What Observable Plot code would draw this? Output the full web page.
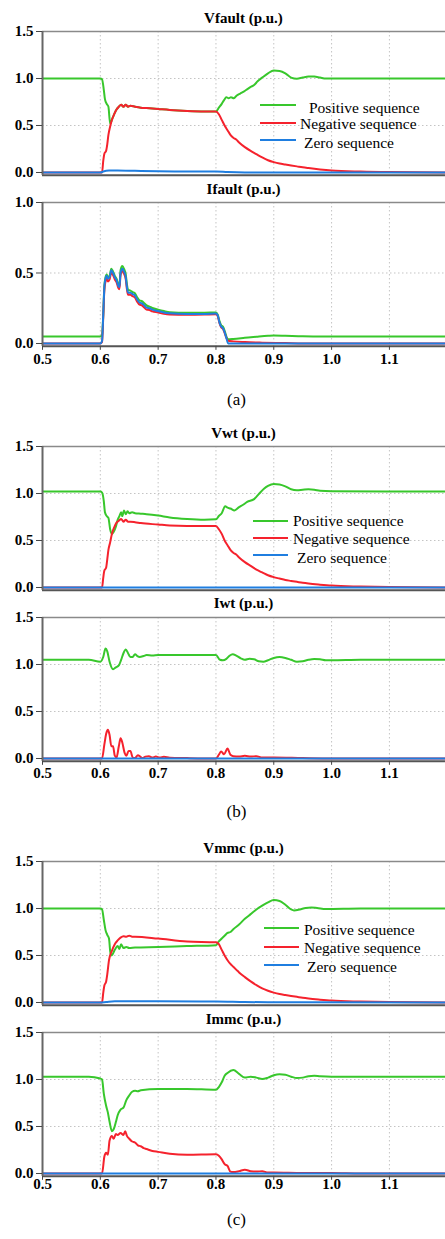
<!DOCTYPE html>
<html><head><meta charset="utf-8">
<script src="https://cdn.jsdelivr.net/npm/d3@7"></script>
<script src="https://cdn.jsdelivr.net/npm/@observablehq/plot@0.6"></script>
<style>
body{margin:0;background:#fff;}
#root{position:relative;width:445px;height:1239px;overflow:hidden;font-family:"Liberation Serif","Times New Roman",serif;background:#fff;}
.panel{position:absolute;left:0;}
.panel svg{font-family:"Liberation Serif","Times New Roman",serif !important;font-weight:bold !important;font-size:15px !important;overflow:visible;background:transparent;}
.panel svg text{font-family:"Liberation Serif","Times New Roman",serif !important;font-weight:bold !important;font-size:15px !important;fill:#000;font-variant:normal !important;}
.title{position:absolute;left:42px;width:403px;text-align:center;font-weight:bold;font-size:15px;line-height:15px;}
.cap{position:absolute;left:0;width:473px;text-align:center;font-size:17px;line-height:17px;}
.legtext{position:absolute;font-size:15.5px;line-height:12px;white-space:pre;}
.legline{position:absolute;height:2px;}
</style></head>
<body><div id="root"></div>
<script>
// ---- data (time s, value p.u.) ----
const xTickValues = [0.5, 0.6, 0.7, 0.8, 0.9, 1.0, 1.1];
const seriesNames = ["Positive sequence", "Negative sequence", "Zero sequence"];
const seriesColors = ["#38c72c", "#f5222d", "#1f7ee0"];

const vfPos = [[0.5,1.0],[0.6,1.0],[0.603,0.99],[0.606,0.88],[0.608,0.78],[0.611,0.73],[0.614,0.70],[0.617,0.52],[0.62,0.56],[0.624,0.62],[0.628,0.67],[0.632,0.70],[0.636,0.72],[0.64,0.70],[0.644,0.72],[0.648,0.70],[0.652,0.71],[0.66,0.70],[0.67,0.69],[0.68,0.685],[0.7,0.675],[0.72,0.665],[0.75,0.655],[0.78,0.65],[0.8,0.65],[0.805,0.69],[0.81,0.73],[0.814,0.77],[0.818,0.80],[0.822,0.79],[0.826,0.80],[0.831,0.79],[0.836,0.82],[0.842,0.84],[0.848,0.86],[0.855,0.89],[0.86,0.91],[0.866,0.93],[0.872,0.97],[0.88,1.01],[0.89,1.055],[0.9,1.085],[0.91,1.08],[0.92,1.055],[0.93,1.01],[0.94,0.998],[0.95,1.01],[0.96,1.02],[0.97,1.02],[0.98,1.01],[0.99,1.0],[1.1,1.0],[1.2,1.0]];
const vfNeg = [[0.5,0],[0.603,0],[0.605,0.12],[0.607,0.2],[0.61,0.23],[0.612,0.3],[0.614,0.4],[0.617,0.49],[0.62,0.56],[0.624,0.62],[0.628,0.67],[0.632,0.70],[0.636,0.72],[0.64,0.70],[0.644,0.72],[0.648,0.70],[0.652,0.71],[0.66,0.70],[0.67,0.69],[0.68,0.685],[0.7,0.675],[0.72,0.665],[0.75,0.655],[0.78,0.65],[0.8,0.65],[0.805,0.62],[0.81,0.56],[0.815,0.50],[0.82,0.45],[0.825,0.40],[0.83,0.37],[0.835,0.35],[0.84,0.32],[0.85,0.27],[0.86,0.23],[0.87,0.195],[0.88,0.16],[0.89,0.13],[0.9,0.11],[0.91,0.095],[0.92,0.085],[0.93,0.075],[0.94,0.065],[0.95,0.055],[0.96,0.047],[0.98,0.033],[1.0,0.022],[1.05,0.01],[1.1,0.004],[1.2,0.0]];
const vfZero = [[0.5,0],[0.6,0],[0.605,0.01],[0.615,0.02],[0.63,0.022],[0.66,0.018],[0.7,0.013],[0.75,0.01],[0.8,0.01],[0.82,0.004],[0.85,0],[1.2,0]];

const ifPos = [[0.5,0.05],[0.6,0.05],[0.603,0.06],[0.605,0.2],[0.607,0.41],[0.609,0.47],[0.611,0.49],[0.613,0.47],[0.616,0.48],[0.619,0.53],[0.622,0.51],[0.625,0.48],[0.628,0.46],[0.631,0.42],[0.633,0.41],[0.635,0.52],[0.638,0.55],[0.641,0.53],[0.644,0.49],[0.646,0.42],[0.648,0.38],[0.652,0.375],[0.656,0.365],[0.66,0.355],[0.664,0.325],[0.668,0.305],[0.672,0.3],[0.676,0.285],[0.68,0.27],[0.685,0.262],[0.69,0.252],[0.7,0.24],[0.71,0.23],[0.72,0.222],[0.75,0.218],[0.78,0.218],[0.8,0.22],[0.803,0.205],[0.806,0.16],[0.809,0.13],[0.812,0.12],[0.815,0.09],[0.818,0.05],[0.821,0.03],[0.83,0.032],[0.85,0.04],[0.87,0.048],[0.89,0.055],[0.9,0.057],[0.92,0.055],[0.95,0.051],[1.0,0.05],[1.2,0.05]];
const ifNeg = [[0.5,0],[0.6,0],[0.603,0.01],[0.605,0.18],[0.607,0.38],[0.609,0.44],[0.611,0.46],[0.613,0.44],[0.616,0.455],[0.619,0.505],[0.622,0.485],[0.625,0.455],[0.628,0.435],[0.631,0.395],[0.633,0.385],[0.635,0.485],[0.638,0.515],[0.641,0.495],[0.644,0.455],[0.646,0.385],[0.648,0.345],[0.652,0.345],[0.656,0.335],[0.66,0.325],[0.664,0.295],[0.668,0.275],[0.672,0.27],[0.676,0.255],[0.68,0.24],[0.685,0.237],[0.69,0.228],[0.7,0.22],[0.71,0.21],[0.72,0.205],[0.75,0.203],[0.78,0.205],[0.8,0.208],[0.803,0.195],[0.806,0.145],[0.809,0.115],[0.812,0.105],[0.815,0.075],[0.818,0.04],[0.821,0.02],[0.83,0.015],[0.85,0.01],[0.88,0.006],[0.92,0.003],[0.95,0],[1.2,0]];
const ifZero = [[0.5,0],[0.6,0],[0.603,0.02],[0.605,0.2],[0.607,0.4],[0.609,0.46],[0.611,0.48],[0.613,0.46],[0.616,0.47],[0.619,0.52],[0.622,0.5],[0.625,0.47],[0.628,0.45],[0.631,0.41],[0.633,0.40],[0.635,0.50],[0.638,0.53],[0.641,0.51],[0.644,0.47],[0.646,0.40],[0.648,0.36],[0.652,0.36],[0.656,0.35],[0.66,0.34],[0.664,0.31],[0.668,0.29],[0.672,0.285],[0.676,0.27],[0.68,0.255],[0.685,0.25],[0.69,0.24],[0.7,0.23],[0.71,0.22],[0.72,0.215],[0.75,0.21],[0.78,0.21],[0.8,0.213],[0.803,0.2],[0.806,0.15],[0.809,0.12],[0.812,0.11],[0.815,0.08],[0.818,0.04],[0.821,0.0],[1.2,0]];

const vwPos = [[0.5,1.02],[0.6,1.02],[0.603,1.01],[0.606,0.92],[0.608,0.80],[0.611,0.76],[0.614,0.74],[0.617,0.62],[0.62,0.57],[0.623,0.59],[0.627,0.65],[0.63,0.72],[0.633,0.76],[0.636,0.80],[0.638,0.76],[0.641,0.82],[0.644,0.78],[0.647,0.81],[0.65,0.79],[0.655,0.80],[0.66,0.79],[0.67,0.785],[0.68,0.78],[0.7,0.765],[0.72,0.745],[0.75,0.728],[0.78,0.72],[0.8,0.725],[0.805,0.76],[0.81,0.79],[0.816,0.865],[0.82,0.85],[0.825,0.84],[0.832,0.82],[0.84,0.855],[0.847,0.88],[0.854,0.91],[0.866,0.94],[0.875,1.0],[0.883,1.05],[0.89,1.08],[0.9,1.10],[0.91,1.095],[0.92,1.075],[0.93,1.045],[0.94,1.035],[0.95,1.04],[0.96,1.045],[0.97,1.04],[0.98,1.03],[1.0,1.025],[1.2,1.02]];
const vwNeg = [[0.5,0],[0.603,0],[0.605,0.1],[0.607,0.18],[0.61,0.21],[0.612,0.3],[0.614,0.4],[0.617,0.48],[0.62,0.57],[0.624,0.64],[0.628,0.69],[0.632,0.71],[0.636,0.73],[0.64,0.70],[0.644,0.72],[0.648,0.70],[0.652,0.70],[0.66,0.695],[0.67,0.685],[0.7,0.67],[0.72,0.66],[0.75,0.655],[0.8,0.655],[0.805,0.62],[0.81,0.57],[0.815,0.50],[0.82,0.45],[0.825,0.40],[0.83,0.37],[0.835,0.35],[0.84,0.32],[0.85,0.27],[0.86,0.23],[0.87,0.19],[0.88,0.16],[0.89,0.13],[0.9,0.11],[0.91,0.095],[0.92,0.08],[0.93,0.07],[0.94,0.06],[0.95,0.05],[0.96,0.042],[0.98,0.03],[1.0,0.02],[1.05,0.01],[1.1,0.004],[1.2,0]];
const vwZero = [[0.5,0],[1.2,0]];

const iwPos = [[0.5,1.05],[0.58,1.05],[0.6,1.03],[0.605,1.08],[0.609,1.17],[0.612,1.14],[0.616,1.03],[0.622,0.95],[0.627,0.97],[0.632,0.99],[0.636,1.05],[0.64,1.12],[0.644,1.16],[0.648,1.12],[0.652,1.08],[0.656,1.08],[0.66,1.11],[0.664,1.09],[0.668,1.08],[0.675,1.09],[0.68,1.10],[0.69,1.095],[0.7,1.10],[0.75,1.10],[0.8,1.10],[0.807,1.05],[0.812,1.045],[0.818,1.06],[0.823,1.09],[0.829,1.11],[0.835,1.095],[0.843,1.065],[0.85,1.05],[0.858,1.06],[0.866,1.055],[0.874,1.035],[0.882,1.03],[0.89,1.045],[0.9,1.07],[0.91,1.08],[0.92,1.07],[0.93,1.05],[0.94,1.03],[0.95,1.035],[0.96,1.05],[0.97,1.058],[0.98,1.055],[0.99,1.045],[1.0,1.045],[1.05,1.05],[1.2,1.05]];
const iwNeg = [[0.5,0],[0.603,0],[0.607,0.15],[0.61,0.26],[0.613,0.305],[0.616,0.25],[0.619,0.13],[0.622,0.13],[0.625,0.03],[0.628,0.01],[0.632,0.13],[0.635,0.215],[0.638,0.17],[0.642,0.06],[0.645,0.03],[0.649,0.08],[0.652,0.08],[0.656,0.01],[0.66,0.005],[0.665,0.035],[0.669,0.02],[0.673,0.005],[0.678,0.02],[0.684,0.025],[0.69,0.01],[0.696,0.02],[0.703,0.01],[0.71,0.018],[0.72,0.008],[0.75,0.004],[0.8,0.0],[0.805,0.04],[0.809,0.075],[0.814,0.045],[0.82,0.105],[0.825,0.04],[0.83,0.025],[0.84,0.02],[0.85,0.028],[0.86,0.02],[0.87,0.025],[0.88,0.01],[0.9,0.01],[0.95,0.004],[1.0,0.0],[1.2,0]];
const iwZero = [[0.5,0],[1.2,0]];

const vmPos = [[0.5,1.0],[0.6,1.0],[0.603,0.99],[0.606,0.88],[0.609,0.77],[0.612,0.72],[0.615,0.68],[0.618,0.50],[0.621,0.51],[0.625,0.56],[0.63,0.60],[0.633,0.57],[0.636,0.62],[0.64,0.58],[0.645,0.59],[0.65,0.58],[0.66,0.585],[0.7,0.59],[0.75,0.60],[0.8,0.61],[0.805,0.65],[0.81,0.68],[0.815,0.71],[0.82,0.74],[0.825,0.75],[0.83,0.78],[0.84,0.83],[0.85,0.89],[0.86,0.94],[0.87,0.99],[0.88,1.03],[0.89,1.065],[0.9,1.09],[0.91,1.08],[0.92,1.04],[0.93,0.99],[0.935,0.98],[0.945,0.99],[0.955,1.005],[0.965,1.01],[0.975,1.005],[0.99,0.995],[1.05,1.0],[1.2,1.0]];
const vmNeg = [[0.5,0],[0.603,0],[0.605,0.1],[0.607,0.18],[0.61,0.22],[0.612,0.3],[0.615,0.45],[0.62,0.55],[0.625,0.62],[0.63,0.66],[0.635,0.69],[0.64,0.705],[0.645,0.70],[0.65,0.71],[0.655,0.70],[0.66,0.70],[0.7,0.68],[0.75,0.648],[0.8,0.64],[0.805,0.62],[0.81,0.56],[0.815,0.50],[0.82,0.45],[0.825,0.41],[0.83,0.38],[0.835,0.35],[0.84,0.32],[0.85,0.27],[0.86,0.225],[0.87,0.185],[0.88,0.15],[0.89,0.125],[0.9,0.105],[0.91,0.09],[0.92,0.08],[0.93,0.07],[0.94,0.06],[0.95,0.05],[0.96,0.042],[0.98,0.03],[1.0,0.02],[1.05,0.01],[1.1,0.004],[1.2,0]];
const vmZero = [[0.5,0],[0.6,0],[0.61,0.005],[0.625,0.012],[0.65,0.013],[0.7,0.012],[0.8,0.01],[0.85,0.005],[0.9,0.002],[1.2,0]];

const imPos = [[0.5,1.03],[0.58,1.03],[0.6,1.01],[0.603,1.0],[0.606,0.85],[0.61,0.72],[0.613,0.65],[0.616,0.55],[0.62,0.45],[0.623,0.47],[0.627,0.55],[0.63,0.62],[0.635,0.68],[0.64,0.70],[0.645,0.78],[0.65,0.83],[0.655,0.87],[0.66,0.88],[0.665,0.875],[0.67,0.885],[0.7,0.90],[0.75,0.90],[0.8,0.89],[0.805,0.92],[0.81,0.97],[0.815,1.04],[0.82,1.07],[0.83,1.10],[0.84,1.06],[0.85,1.02],[0.86,1.03],[0.87,1.02],[0.88,1.005],[0.89,1.02],[0.9,1.045],[0.91,1.055],[0.92,1.05],[0.93,1.03],[0.94,1.015],[0.95,1.02],[0.96,1.035],[0.97,1.04],[0.98,1.035],[1.0,1.03],[1.2,1.03]];
const imNeg = [[0.5,0],[0.603,0],[0.607,0.18],[0.61,0.22],[0.613,0.2],[0.616,0.35],[0.62,0.40],[0.623,0.37],[0.627,0.42],[0.63,0.41],[0.635,0.43],[0.64,0.41],[0.643,0.45],[0.646,0.40],[0.65,0.37],[0.655,0.34],[0.66,0.33],[0.665,0.30],[0.67,0.29],[0.675,0.27],[0.68,0.26],[0.69,0.24],[0.7,0.23],[0.72,0.21],[0.75,0.20],[0.8,0.205],[0.805,0.19],[0.81,0.15],[0.815,0.10],[0.82,0.08],[0.825,0.02],[0.83,0.015],[0.84,0.025],[0.85,0.04],[0.86,0.025],[0.87,0.02],[0.88,0.025],[0.89,0.01],[0.9,0.01],[0.95,0.005],[1.0,0.005],[1.05,0],[1.2,0]];
const imZero = [[0.5,0],[1.2,0]];

// ---- layout ----
const root = document.getElementById("root");
const X0 = 42;
const FONT = "'Liberation Serif','Times New Roman',serif";

function panel({top, data, yMax, yMin, yTicks, yGrid, xAxis, mb, tickPad, pxPerUnit}) {
  const plotH = (yMax - yMin) * pxPerUnit;
  const h = 6 + plotH + mb;
  const marks = [
    Plot.ruleX(xTickValues.slice(1), {stroke: "#c4c4c4", strokeDasharray: "1.5,2.5", strokeWidth: 1}),
    Plot.ruleY(yGrid, {stroke: "#c4c4c4", strokeDasharray: "1.5,2.5", strokeWidth: 1}),
  ];
  data.forEach((d, i) => marks.push(Plot.line(d, {x: d => d[0], y: d => d[1], stroke: seriesColors[i], strokeWidth: 2, curve: "monotone-x", clip: true})));
  marks.push(Plot.ruleY([yMax], {stroke: "#8a8a8a", strokeWidth: 1.5}));
  marks.push(Plot.ruleY([yMin], {stroke: "#555", strokeWidth: 2}));
  marks.push(Plot.ruleX([0.5], {stroke: "#666", strokeWidth: 2}));
  marks.push(Plot.axisY({ticks: yTicks, tickSize: 6, tickPadding: 3, tickFormat: d3.format(".1f"), label: null, stroke: "#444", fontFamily: FONT, fontSize: 15, fontWeight: "bold"}));
  if (xAxis) marks.push(Plot.axisX({ticks: xTickValues, tickSize: 4, tickPadding: tickPad, tickFormat: d3.format(".1f"), label: null, stroke: "#444", fontFamily: FONT, fontSize: 15, fontWeight: "bold"}));
  const svg = Plot.plot({
    width: 445, height: h,
    marginLeft: X0, marginRight: 0, marginTop: 6, marginBottom: mb,
    x: {domain: [0.5, 1.197], axis: xAxis ? undefined : null},
    y: {domain: [yMin, yMax]},
    marks
  });
  const div = document.createElement("div");
  div.className = "panel";
  div.style.top = (top - 6) + "px";
  div.appendChild(svg);
  root.appendChild(div);
}

function title(text, cy) {
  const t = document.createElement("div");
  t.className = "title"; t.textContent = text; t.style.top = (cy - 8) + "px";
  root.appendChild(t);
}
function caption(text, cy) {
  const t = document.createElement("div");
  t.className = "cap"; t.textContent = text; t.style.top = (cy - 9) + "px";
  root.appendChild(t);
}
function legend(lineX0, lineX1, lineYs, textXs, textYs, labels) {
  labels.forEach((lab, i) => {
    const l = document.createElement("div");
    l.className = "legline";
    l.style.left = lineX0 + "px"; l.style.width = (lineX1 - lineX0) + "px";
    l.style.top = (lineYs[i] - 1) + "px"; l.style.background = seriesColors[i];
    root.appendChild(l);
    const t = document.createElement("div");
    t.className = "legtext"; t.textContent = lab;
    t.style.left = textXs[i] + "px"; t.style.top = (textYs[i] - 6) + "px";
    root.appendChild(t);
  });
}

const vTicks = [0.0, 0.5, 1.0, 1.5];
// (a)
panel({top: 31, data: [vfPos, vfNeg, vfZero], yMax: 1.5, yMin: -0.03, yTicks: vTicks, yGrid: [0.5, 1.0], xAxis: false, mb: 2, pxPerUnit: 94});
title("Vfault (p.u.)", 19);
panel({top: 202, data: [ifPos, ifNeg, ifZero], yMax: 1.0, yMin: -0.02, yTicks: [0.0, 0.5, 1.0], yGrid: [0.5], xAxis: true, mb: 30, tickPad: 3, pxPerUnit: 141});
title("Ifault (p.u.)", 190);
caption("(a)", 400);
legend(260, 296, [105, 123, 140], [309, 300, 304], [108, 124, 143], seriesNames);
// (b)
panel({top: 446, data: [vwPos, vwNeg, vwZero], yMax: 1.5, yMin: -0.03, yTicks: vTicks, yGrid: [0.5, 1.0], xAxis: false, mb: 2, pxPerUnit: 94});
title("Vwt (p.u.)", 434);
panel({top: 617, data: [iwPos, iwNeg, iwZero], yMax: 1.5, yMin: -0.03, yTicks: vTicks, yGrid: [0.5, 1.0], xAxis: true, mb: 30, tickPad: 2, pxPerUnit: 94});
title("Iwt (p.u.)", 604);
caption("(b)", 812);
legend(253, 288, [521, 538, 555], [293, 293, 297], [521, 539, 558], seriesNames);
// (c)
panel({top: 861, data: [vmPos, vmNeg, vmZero], yMax: 1.5, yMin: -0.03, yTicks: vTicks, yGrid: [0.5, 1.0], xAxis: false, mb: 2, pxPerUnit: 94});
title("Vmmc (p.u.)", 849);
panel({top: 1032, data: [imPos, imNeg, imZero], yMax: 1.5, yMin: -0.03, yTicks: vTicks, yGrid: [0.5, 1.0], xAxis: true, mb: 30, tickPad: -2, pxPerUnit: 94});
title("Immc (p.u.)", 1020);
caption("(c)", 1220);
legend(264, 299, [928, 947, 965], [304, 304, 307], [930, 948, 967], seriesNames);
</script></body></html>
